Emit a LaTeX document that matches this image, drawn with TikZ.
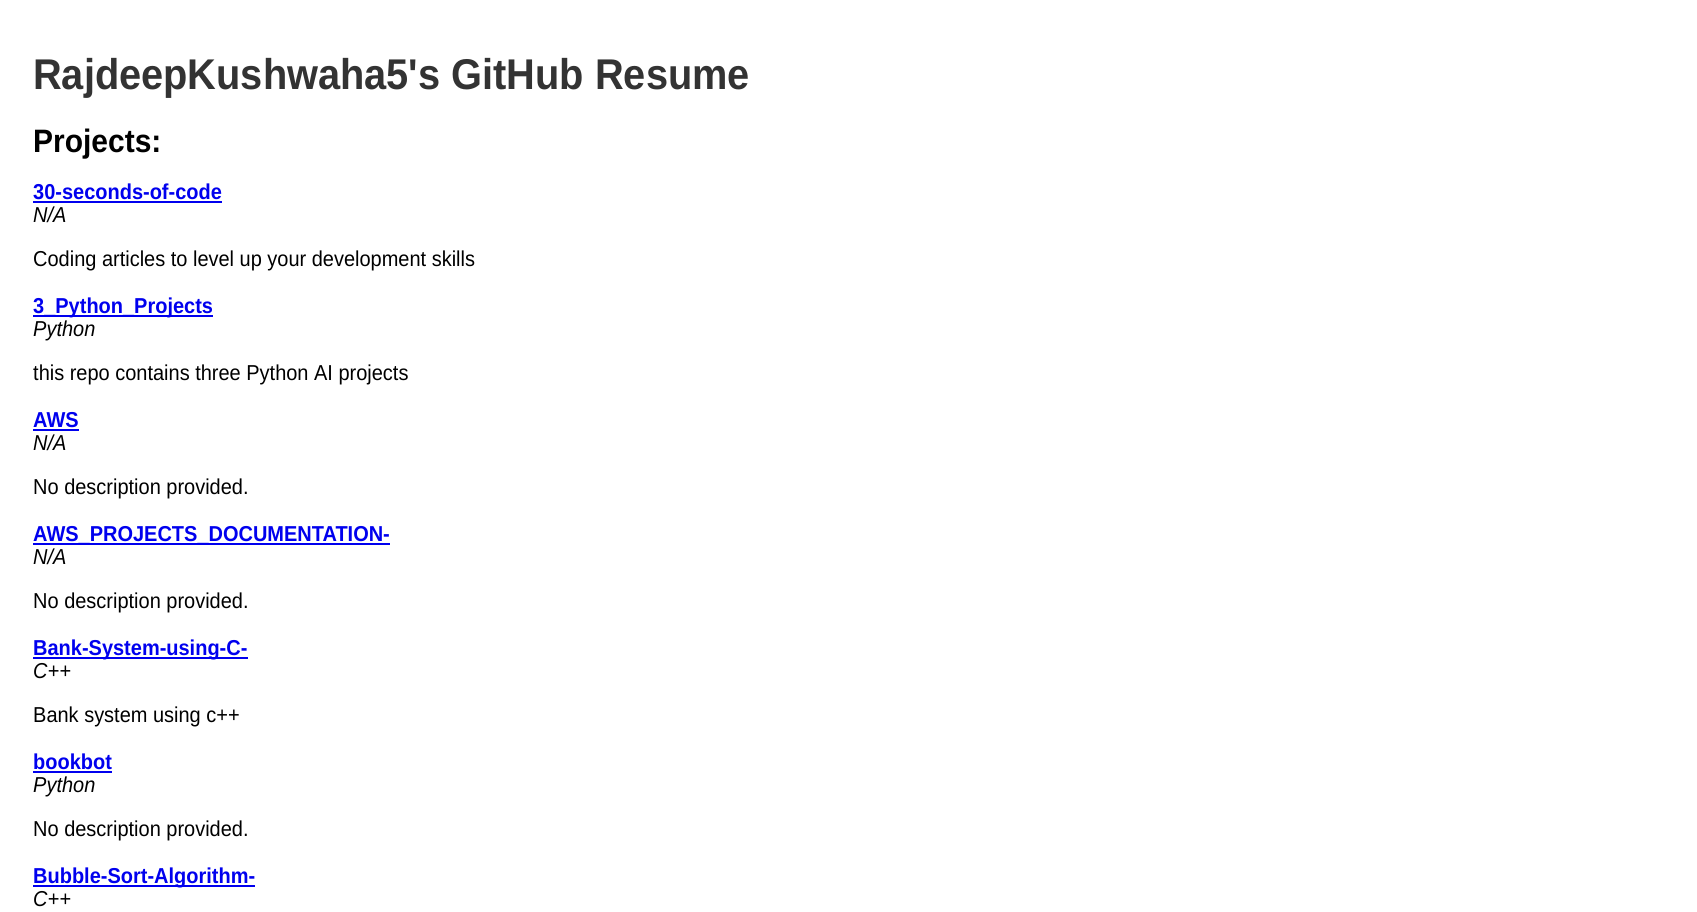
\documentclass[tikz,border=0pt]{standalone}
\usepackage{fontspec}
\setmainfont{Liberation Sans}[Ligatures=TeXOff,FakeStretch=0.925]
\definecolor{titlegray}{HTML}{333333}
\definecolor{linkblue}{HTML}{0000EE}

\begin{document}
\begin{tikzpicture}[x=1pt,y=1pt,every node/.style={inner sep=0pt,anchor=base west},
repolink/.style={color=linkblue,font=\fontsize{21.6}{24}\selectfont\bfseries},
repolang/.style={font=\fontsize{21.6}{24}\selectfont\itshape},
repodesc/.style={font=\fontsize{21.6}{24}\selectfont}]
\useasboundingbox (0,0) rectangle (1697,-911);
\node[color=titlegray,font=\fontsize{43}{50}\selectfont\bfseries] (title) at (33,-89) {RajdeepKushwaha5's GitHub Resume};
\node[font=\fontsize{32.4}{38}\selectfont\bfseries] (projects) at (33,-152) {Projects:};
\foreach \repo/\lang/\desc [count=\i] in {
{30-seconds-of-code}/{N/A}/{Coding articles to level up your development skills},
{3\_Python\_Projects}/{Python}/{this repo contains three Python AI projects},
{AWS}/{N/A}/{No description provided.},
{AWS\_PROJECTS\_DOCUMENTATION-}/{N/A}/{No description provided.},
{Bank-System-using-C-}/{C++}/{Bank system using c++},
{bookbot}/{Python}/{No description provided.},
{Bubble-Sort-Algorithm-}/{C++}/{}}
{
\node[repolink] (repo\i) at (33,{-199-114*(\i-1)}) {\repo};
\draw[color=linkblue,line width=1.6pt] ([yshift=-3pt]repo\i.base west) -- ([yshift=-3pt]repo\i.base east);
\node[repolang] (lang\i) at (33,{-222-114*(\i-1)}) {\lang};
\node[repodesc] (desc\i) at (33,{-266-114*(\i-1)}) {\desc};
}
\end{tikzpicture}
\end{document}
